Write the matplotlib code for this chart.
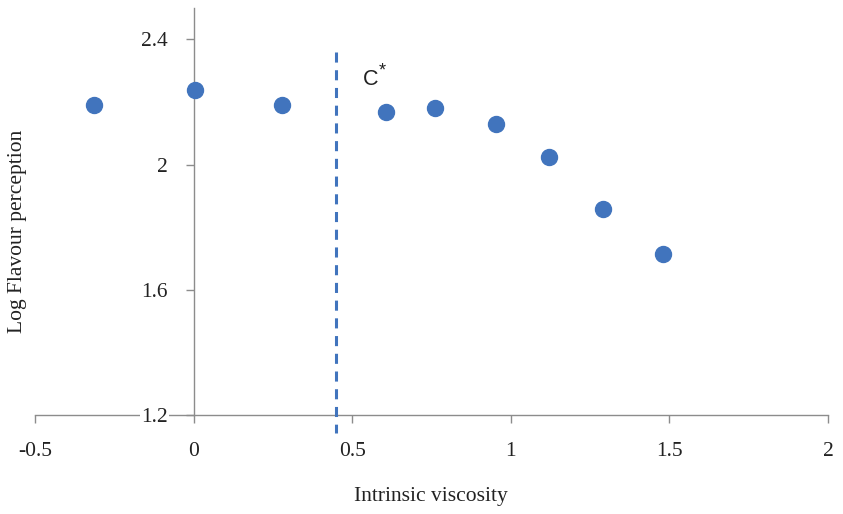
import matplotlib
matplotlib.use("Agg")
import matplotlib.pyplot as plt

viscosity = [-0.314, 0.005, 0.279, 0.607, 0.762, 0.954, 1.121, 1.291, 1.480]
log_flavour = [2.189, 2.237, 2.189, 2.167, 2.180, 2.129, 2.024, 1.858, 1.714]
c_star = 0.449
x_ticks = [-0.5, 0, 0.5, 1, 1.5, 2]
x_labels = ["-0.5", "0", "0.5", "1", "1.5", "2"]
y_ticks = [1.2, 1.6, 2.0, 2.4]
y_labels = ["1.2", "1.6", "2", "2.4"]

serif = "Liberation Serif"
blue = "#4174BD"
axis_col = "#8c8c8c"
txt_col = "#222222"

fig = plt.figure(figsize=(8.43, 5.14), dpi=100)
ax = fig.add_axes([35/843, 99/514, (828-35)/843, (415-8)/514])
ax.set_xlim(-0.5, 2.0)
ax.set_ylim(1.2, 2.5)

ax.plot(viscosity, log_flavour, 'o', color=blue, markersize=11.5, zorder=4, clip_on=False)
ax.plot([c_star, c_star], [2.36, 1.143], color=blue, lw=2.2, dashes=(3.3, 2.5),
        zorder=3.5, clip_on=False)

ax.text(0.535, 2.272, "C", fontsize=15.5, family="Liberation Sans", color=txt_col, va="center", ha="left")
ax.text(0.585, 2.298, "*", fontsize=13, family="Liberation Sans", color=txt_col, va="center", ha="left")

for s in ["top", "right"]:
    ax.spines[s].set_visible(False)
ax.spines["left"].set_position(("data", 0))
ax.spines["left"].set_color(axis_col)
ax.spines["bottom"].set_color(axis_col)
ax.spines["left"].set_linewidth(1.0)
ax.spines["bottom"].set_linewidth(1.0)
ax.spines["bottom"].set_zorder(2)
ax.spines["left"].set_zorder(2)
ax.yaxis.set_zorder(3)

ax.set_xticks(x_ticks)
ax.set_xticklabels(x_labels, family=serif, fontsize=15.5, color=txt_col)
ax.set_yticks(y_ticks)
ax.set_yticklabels(y_labels, family=serif, fontsize=15.5, color=txt_col)
ax.tick_params(axis="x", direction="out", length=5.8, width=1.0, color=axis_col, pad=14)
ax.tick_params(axis="y", direction="out", length=5.8, width=1.0, color=axis_col, pad=13)
for lbl in ax.get_yticklabels():
    lbl.set_bbox(dict(facecolor="white", edgecolor="none", pad=1.0))

fig.text(431/843, 1 - 497/514, "Intrinsic viscosity", family=serif, fontsize=15.5,
         ha="center", va="center", color=txt_col)
fig.text(18/843, 1 - 231/514, "Log Flavour perception", family=serif, fontsize=15.5,
         ha="center", va="center", rotation=90, color=txt_col)

fig.savefig("out.png", dpi=100)
